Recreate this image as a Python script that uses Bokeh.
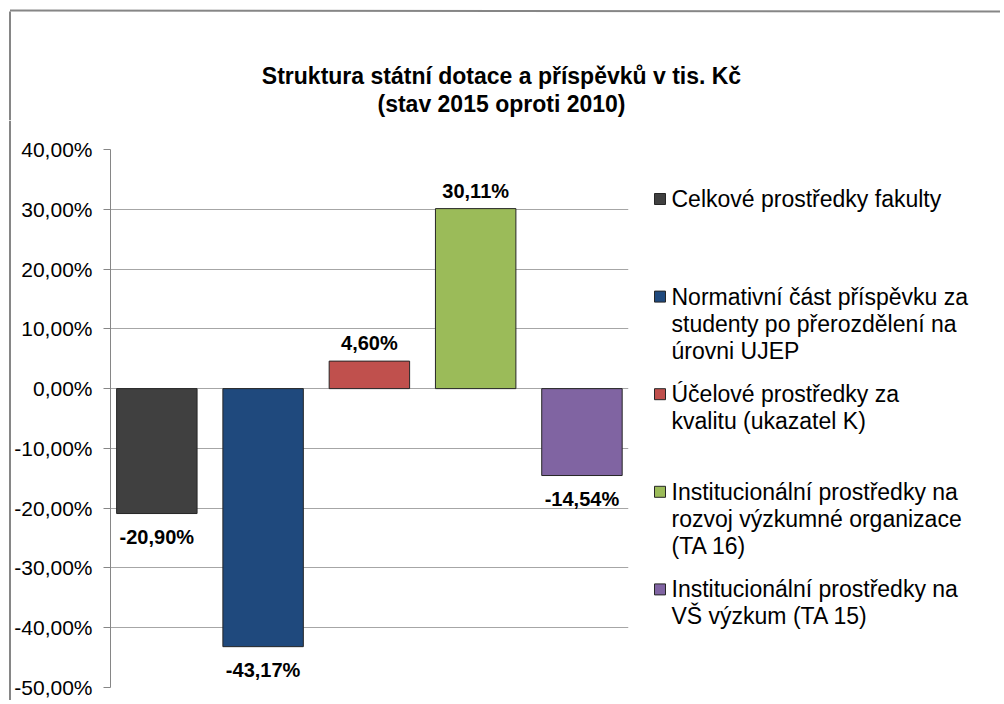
from bokeh.plotting import figure
from bokeh.layouts import row, column
from bokeh.models import Range1d, FixedTicker
from bokeh.embed import file_html
from bokeh.resources import INLINE
from bokeh.core.properties import value

# ---- data ----
categories = [
    "Celkové prostředky fakulty",
    "Normativní část příspěvku za studenty po přerozdělení na úrovni UJEP",
    "Účelové prostředky za kvalitu (ukazatel K)",
    "Institucionální prostředky na rozvoj výzkumné organizace (TA 16)",
    "Institucionální prostředky na VŠ výzkum (TA 15)",
]
legend_lines = [
    ["Celkové prostředky fakulty"],
    ["Normativní část příspěvku za", "studenty po přerozdělení na", "úrovni UJEP"],
    ["Účelové prostředky za", "kvalitu (ukazatel K)"],
    ["Institucionální prostředky na", "rozvoj výzkumné organizace", "(TA 16)"],
    ["Institucionální prostředky na", "VŠ výzkum (TA 15)"],
]
values = [-0.2090, -0.4317, 0.0460, 0.3011, -0.1454]
value_labels = ["-20,90%", "-43,17%", "4,60%", "30,11%", "-14,54%"]
colors = ["#404040", "#1F497D", "#C0504D", "#9BBB59", "#8064A2"]
y_ticks = [-0.5, -0.4, -0.3, -0.2, -0.1, 0.0, 0.1, 0.2, 0.3, 0.4]
y_tick_labels = ["-50,00%", "-40,00%", "-30,00%", "-20,00%", "-10,00%",
                 "0,00%", "10,00%", "20,00%", "30,00%", "40,00%"]
title_lines = ["Struktura státní dotace a příspěvků v tis. Kč", "(stav 2015 oproti 2010)"]

FONT = "Liberation Sans"
GRID = "#A6A6A6"
AXIS = "#868686"
BORDER = "#868686"

TOTAL_W = 1000
TOP_H = 120
ROW_H = 580
STRIP_W = 11
MAIN_W = 621
LEG_W = TOTAL_W - STRIP_W - MAIN_W


def pixel_fig(w, h):
    f = figure(width=w, height=h, output_backend="svg", toolbar_location=None,
               x_range=Range1d(0, w), y_range=Range1d(h, 0),
               min_border=0, background_fill_color="white",
               border_fill_color="white", frame_align=False)
    f.outline_line_color = None
    f.axis.visible = False
    f.grid.visible = False
    return f


# ---- top: title + outer border ----
top = pixel_fig(TOTAL_W, TOP_H)
top.segment(x0=[9.5, 9.5], y0=[10, 11], x1=[TOTAL_W, 9.5], y1=[11, TOP_H],
            line_color=BORDER, line_width=2)
top.text(x=[501, 501], y=[75, 103], text=title_lines,
         text_font=value(FONT), text_font_style="bold", text_font_size="23px",
         text_align="center", text_baseline="middle", text_color="#000000")

# ---- left strip: outer border ----
strip = pixel_fig(STRIP_W, ROW_H)
strip.segment(x0=[9.5], y0=[0], x1=[9.5], y1=[ROW_H], line_color=BORDER, line_width=2)

# ---- main chart ----
p = figure(width=MAIN_W, height=ROW_H, output_backend="svg", toolbar_location=None,
           x_range=Range1d(-0.436, 4.438), y_range=Range1d(-0.5, 0.4),
           min_border_left=99, min_border_right=MAIN_W - 99 - 518,
           min_border_top=29, min_border_bottom=ROW_H - 29 - 538,
           background_fill_color="white", border_fill_color="white",
           frame_align=False)
p.outline_line_color = None
p.xaxis.visible = False
p.xgrid.visible = False

p.yaxis.ticker = FixedTicker(ticks=y_ticks)
p.yaxis.major_label_overrides = {t: l for t, l in zip(y_ticks, y_tick_labels)}
p.yaxis.major_label_text_font = FONT
p.yaxis.major_label_text_font_size = "21px"
p.yaxis.major_label_text_color = "#000000"
p.yaxis.major_label_standoff = 11
p.yaxis.axis_line_color = AXIS
p.yaxis.major_tick_line_color = AXIS
p.yaxis.major_tick_out = 7
p.yaxis.major_tick_in = 0
p.yaxis.minor_tick_line_color = None
p.ygrid.ticker = FixedTicker(ticks=y_ticks)
p.ygrid.grid_line_color = GRID
p.ygrid.grid_line_width = 1

idx = list(range(len(values)))
p.vbar(x=idx, top=values, bottom=0, width=0.757, fill_color=colors,
       line_color="#262626", line_width=1)

offsets = [-18 if v >= 0 else 23 for v in values]
p.text(x=idx, y=values, text=value_labels, y_offset=offsets,
       text_font=value(FONT), text_font_style="bold", text_font_size="20px",
       text_align="center", text_baseline="middle", text_color="#000000")

# ---- legend ----
leg = pixel_fig(LEG_W, ROW_H)
x0_page = STRIP_W + MAIN_W
sq_l, sq_r, sq_t, sq_b, tx, ty, tt = [], [], [], [], [], [], []
for i, lines in enumerate(legend_lines):
    yc = 198.5 + 97.6 * i - TOP_H
    sq_l.append(654 - x0_page)
    sq_r.append(665 - x0_page)
    sq_t.append(yc - 5.5)
    sq_b.append(yc + 5.5)
    for j, t in enumerate(lines):
        tx.append(671 - x0_page)
        ty.append(yc + 27 * j)
        tt.append(t)
leg.quad(left=sq_l, right=sq_r, top=sq_t, bottom=sq_b, fill_color=colors,
         line_color="#262626", line_width=1)
leg.text(x=tx, y=ty, text=tt, text_font=value(FONT), text_font_size="23px",
         text_align="left", text_baseline="middle", text_color="#000000")

layout = column(top, row(strip, p, leg))
open("out.html", "w").write(file_html(layout, INLINE))
